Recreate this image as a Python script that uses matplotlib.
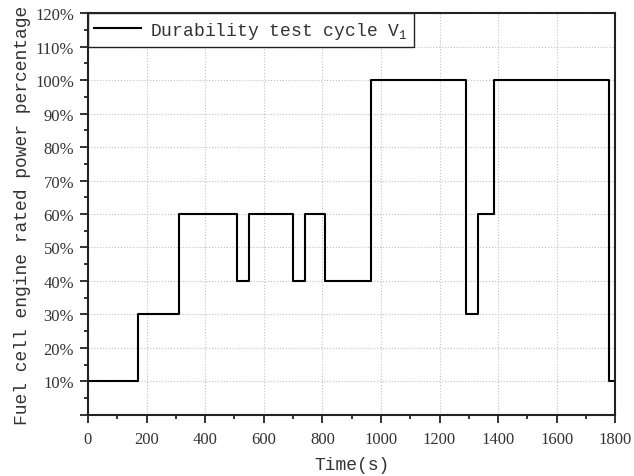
import numpy as np
import matplotlib
matplotlib.use('Agg')
import matplotlib.pyplot as plt
from matplotlib.ticker import MultipleLocator, FuncFormatter

# 工况数据：每段起始时间(s) 和 额定功率百分比(%)
times = [0, 170, 310, 510, 550, 700, 740, 810, 965, 1290, 1330, 1385, 1780, 1800]
levels = [10, 30, 60, 40, 60, 40, 60, 40, 100, 30, 60, 100, 10, 10]
series_label = 'Durability test cycle V$_1$'
x_label = 'Time(s)'
y_label = 'Fuel cell engine rated power percentage'

mono = 'Liberation Mono'
serif = 'Liberation Serif'
plt.rcParams['mathtext.fontset'] = 'custom'
plt.rcParams['mathtext.rm'] = mono

fig = plt.figure(figsize=(6.34, 4.77), dpi=100)
ax = fig.add_axes([0.1388, 0.1285, 0.8317, 0.8415])

ax.step(times, levels, where='post', color='black', linewidth=1.5, label=series_label)

ax.set_xlim(0, 1800)
ax.set_ylim(0, 120)
ax.xaxis.set_major_locator(MultipleLocator(200))
ax.xaxis.set_minor_locator(MultipleLocator(100))
ax.yaxis.set_major_locator(MultipleLocator(10))
ax.yaxis.set_minor_locator(MultipleLocator(5))
ax.yaxis.set_major_formatter(FuncFormatter(lambda v, p: '' if v == 0 else f'{int(v)}%'))

ax.grid(True, which='major', linestyle=':', color='#c0c0c0', linewidth=0.8)
ax.tick_params(which='both', direction='out', top=False, right=False, width=1.3, colors='#222222')
ax.tick_params(which='major', length=6, labelsize=12)
ax.tick_params(which='minor', length=3)
ax.tick_params(axis='x', which='major', pad=6)
ax.tick_params(axis='y', which='major', pad=4)
for lab in ax.get_xticklabels() + ax.get_yticklabels():
    lab.set_family(serif)
    lab.set_color('#333333')
for s in ax.spines.values():
    s.set_linewidth(1.5)
    s.set_color('#222222')

ax.set_xlabel(x_label, fontsize=13, family=mono, color='#333333', labelpad=6)
ax.set_ylabel(y_label, fontsize=13, family=mono, color='#333333', labelpad=3)

leg = ax.legend(loc='upper left', borderaxespad=0, fancybox=False, frameon=True,
                edgecolor='#222222', handlelength=2.6, handletextpad=0.5, borderpad=0.35,
                prop={'family': mono, 'size': 13})
leg.get_frame().set_linewidth(1.0)
leg.get_frame().set_alpha(1)
for t in leg.get_texts():
    t.set_color('#333333')

fig.savefig('out.png', dpi=100)
